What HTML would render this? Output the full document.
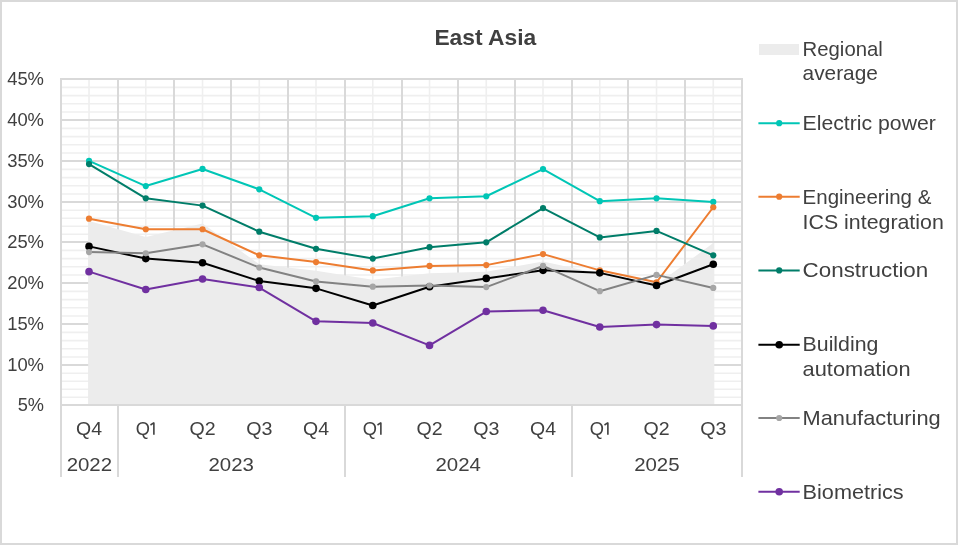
<!DOCTYPE html><html><head><meta charset="utf-8"><title>East Asia</title><style>
html,body{margin:0;padding:0;background:#fff;}body{width:958px;height:545px;overflow:hidden;}
svg{display:block;font-family:"Liberation Sans",sans-serif;will-change:transform;}
</style></head><body>
<svg width="958" height="545" viewBox="0 0 958 545">
<rect x="0" y="0" width="958" height="545" fill="#ffffff"/>
<path d="M61.00 397.20H742.00M61.00 389.20H742.00M61.00 381.20H742.00M61.00 373.20H742.00M61.00 357.00H742.00M61.00 348.80H742.00M61.00 340.60H742.00M61.00 332.40H742.00M61.00 316.00H742.00M61.00 307.80H742.00M61.00 299.60H742.00M61.00 291.40H742.00M61.00 275.00H742.00M61.00 266.80H742.00M61.00 258.60H742.00M61.00 250.40H742.00M61.00 234.20H742.00M61.00 226.20H742.00M61.00 218.20H742.00M61.00 210.20H742.00M61.00 194.00H742.00M61.00 185.80H742.00M61.00 177.60H742.00M61.00 169.40H742.00M61.00 153.00H742.00M61.00 144.80H742.00M61.00 136.60H742.00M61.00 128.40H742.00M61.00 112.00H742.00M61.00 103.80H742.00M61.00 95.60H742.00M61.00 87.40H742.00" stroke="#efefef" stroke-width="1.6" fill="none"/>
<path d="M89.03 79.00V405.00M145.78 79.00V405.00M202.53 79.00V405.00M259.27 79.00V405.00M316.02 79.00V405.00M372.77 79.00V405.00M429.52 79.00V405.00M486.27 79.00V405.00M543.02 79.00V405.00M599.77 79.00V405.00M656.52 79.00V405.00M713.27 79.00V405.00" stroke="#efefef" stroke-width="1.6" fill="none"/>
<path d="M61.00 365.00H742.00M61.00 324.00H742.00M61.00 283.00H742.00M61.00 242.00H742.00M61.00 202.00H742.00M61.00 161.00H742.00M61.00 120.00H742.00" stroke="#d9d9d9" stroke-width="2" fill="none"/>
<path d="M118.00 79.00V405.00M174.00 79.00V405.00M231.00 79.00V405.00M288.00 79.00V405.00M345.00 79.00V405.00M402.00 79.00V405.00M458.00 79.00V405.00M515.00 79.00V405.00M572.00 79.00V405.00M628.00 79.00V405.00M685.00 79.00V405.00" stroke="#d9d9d9" stroke-width="2" fill="none"/>
<path d="M88.2 405.00L88.2 221.11L89.03 221.11L145.78 237.00L202.53 223.56L259.27 264.31L316.02 270.82L372.77 279.79L429.52 273.27L486.27 271.64L543.02 261.45L599.77 273.84L656.52 284.68L713.27 243.12L714.27 243.12L714.27 405.00Z" fill="#ececec"/>
<path d="M61.00 79.00H742.00M61.00 405.00H742.00M61.00 78.00V477M742.00 78.00V477M118.00 405.00V477M345.00 405.00V477M572.00 405.00V477" stroke="#d9d9d9" stroke-width="2" fill="none"/>
<path d="M89.03 160.80L145.78 186.07L202.53 168.95L259.27 189.32L316.02 217.85L372.77 216.22L429.52 198.29L486.27 196.25L543.02 169.11L599.77 201.22L656.52 198.29L713.27 201.96" stroke="#00c6b6" stroke-width="2.0" fill="none" stroke-linejoin="round"/>
<circle cx="89.03" cy="160.80" r="3.1" fill="#00c6b6"/>
<circle cx="145.78" cy="186.07" r="3.1" fill="#00c6b6"/>
<circle cx="202.53" cy="168.95" r="3.1" fill="#00c6b6"/>
<circle cx="259.27" cy="189.32" r="3.1" fill="#00c6b6"/>
<circle cx="316.02" cy="217.85" r="3.1" fill="#00c6b6"/>
<circle cx="372.77" cy="216.22" r="3.1" fill="#00c6b6"/>
<circle cx="429.52" cy="198.29" r="3.1" fill="#00c6b6"/>
<circle cx="486.27" cy="196.25" r="3.1" fill="#00c6b6"/>
<circle cx="543.02" cy="169.11" r="3.1" fill="#00c6b6"/>
<circle cx="599.77" cy="201.22" r="3.1" fill="#00c6b6"/>
<circle cx="656.52" cy="198.29" r="3.1" fill="#00c6b6"/>
<circle cx="713.27" cy="201.96" r="3.1" fill="#00c6b6"/>
<path d="M89.03 218.67L145.78 229.26L202.53 229.26L259.27 255.34L316.02 262.10L372.77 270.42L429.52 265.94L486.27 265.12L543.02 254.12L599.77 270.34L656.52 282.24L713.27 207.25" stroke="#ed7d31" stroke-width="2.0" fill="none" stroke-linejoin="round"/>
<circle cx="89.03" cy="218.67" r="3.1" fill="#ed7d31"/>
<circle cx="145.78" cy="229.26" r="3.1" fill="#ed7d31"/>
<circle cx="202.53" cy="229.26" r="3.1" fill="#ed7d31"/>
<circle cx="259.27" cy="255.34" r="3.1" fill="#ed7d31"/>
<circle cx="316.02" cy="262.10" r="3.1" fill="#ed7d31"/>
<circle cx="372.77" cy="270.42" r="3.1" fill="#ed7d31"/>
<circle cx="429.52" cy="265.94" r="3.1" fill="#ed7d31"/>
<circle cx="486.27" cy="265.12" r="3.1" fill="#ed7d31"/>
<circle cx="543.02" cy="254.12" r="3.1" fill="#ed7d31"/>
<circle cx="599.77" cy="270.34" r="3.1" fill="#ed7d31"/>
<circle cx="656.52" cy="282.24" r="3.1" fill="#ed7d31"/>
<circle cx="713.27" cy="207.25" r="3.1" fill="#ed7d31"/>
<path d="M89.03 164.06L145.78 198.29L202.53 205.62L259.27 231.70L316.02 248.82L372.77 258.60L429.52 247.19L486.27 242.30L543.02 208.07L599.77 237.41L656.52 230.89L713.27 255.34" stroke="#007d69" stroke-width="2.0" fill="none" stroke-linejoin="round"/>
<circle cx="89.03" cy="164.06" r="3.1" fill="#007d69"/>
<circle cx="145.78" cy="198.29" r="3.1" fill="#007d69"/>
<circle cx="202.53" cy="205.62" r="3.1" fill="#007d69"/>
<circle cx="259.27" cy="231.70" r="3.1" fill="#007d69"/>
<circle cx="316.02" cy="248.82" r="3.1" fill="#007d69"/>
<circle cx="372.77" cy="258.60" r="3.1" fill="#007d69"/>
<circle cx="429.52" cy="247.19" r="3.1" fill="#007d69"/>
<circle cx="486.27" cy="242.30" r="3.1" fill="#007d69"/>
<circle cx="543.02" cy="208.07" r="3.1" fill="#007d69"/>
<circle cx="599.77" cy="237.41" r="3.1" fill="#007d69"/>
<circle cx="656.52" cy="230.89" r="3.1" fill="#007d69"/>
<circle cx="713.27" cy="255.34" r="3.1" fill="#007d69"/>
<path d="M89.03 246.38L145.78 258.60L202.53 262.68L259.27 281.01L316.02 288.35L372.77 305.46L429.52 286.72L486.27 278.40L543.02 270.34L599.77 272.86L656.52 285.50L713.27 264.31" stroke="#000000" stroke-width="2.0" fill="none" stroke-linejoin="round"/>
<circle cx="89.03" cy="246.38" r="3.8" fill="#000000"/>
<circle cx="145.78" cy="258.60" r="3.8" fill="#000000"/>
<circle cx="202.53" cy="262.68" r="3.8" fill="#000000"/>
<circle cx="259.27" cy="281.01" r="3.8" fill="#000000"/>
<circle cx="316.02" cy="288.35" r="3.8" fill="#000000"/>
<circle cx="372.77" cy="305.46" r="3.8" fill="#000000"/>
<circle cx="429.52" cy="286.72" r="3.8" fill="#000000"/>
<circle cx="486.27" cy="278.40" r="3.8" fill="#000000"/>
<circle cx="543.02" cy="270.34" r="3.8" fill="#000000"/>
<circle cx="599.77" cy="272.86" r="3.8" fill="#000000"/>
<circle cx="656.52" cy="285.50" r="3.8" fill="#000000"/>
<circle cx="713.27" cy="264.31" r="3.8" fill="#000000"/>
<path d="M89.03 252.08L145.78 253.30L202.53 244.34L259.27 267.56L316.02 281.42L372.77 286.72L429.52 285.50L486.27 287.12L543.02 265.94L599.77 291.20L656.52 274.90L713.27 287.94" stroke="#828282" stroke-width="2.0" fill="none" stroke-linejoin="round"/>
<circle cx="89.03" cy="252.08" r="3.1" fill="#a6a6a6"/>
<circle cx="145.78" cy="253.30" r="3.1" fill="#a6a6a6"/>
<circle cx="202.53" cy="244.34" r="3.1" fill="#a6a6a6"/>
<circle cx="259.27" cy="267.56" r="3.1" fill="#a6a6a6"/>
<circle cx="316.02" cy="281.42" r="3.1" fill="#a6a6a6"/>
<circle cx="372.77" cy="286.72" r="3.1" fill="#a6a6a6"/>
<circle cx="429.52" cy="285.50" r="3.1" fill="#a6a6a6"/>
<circle cx="486.27" cy="287.12" r="3.1" fill="#a6a6a6"/>
<circle cx="543.02" cy="265.94" r="3.1" fill="#a6a6a6"/>
<circle cx="599.77" cy="291.20" r="3.1" fill="#a6a6a6"/>
<circle cx="656.52" cy="274.90" r="3.1" fill="#a6a6a6"/>
<circle cx="713.27" cy="287.94" r="3.1" fill="#a6a6a6"/>
<path d="M89.03 271.64L145.78 289.57L202.53 278.98L259.27 287.53L316.02 321.36L372.77 322.99L429.52 345.40L486.27 311.57L543.02 310.19L599.77 327.06L656.52 324.62L713.27 325.92" stroke="#7030a0" stroke-width="2.0" fill="none" stroke-linejoin="round"/>
<circle cx="89.03" cy="271.64" r="3.8" fill="#7030a0"/>
<circle cx="145.78" cy="289.57" r="3.8" fill="#7030a0"/>
<circle cx="202.53" cy="278.98" r="3.8" fill="#7030a0"/>
<circle cx="259.27" cy="287.53" r="3.8" fill="#7030a0"/>
<circle cx="316.02" cy="321.36" r="3.8" fill="#7030a0"/>
<circle cx="372.77" cy="322.99" r="3.8" fill="#7030a0"/>
<circle cx="429.52" cy="345.40" r="3.8" fill="#7030a0"/>
<circle cx="486.27" cy="311.57" r="3.8" fill="#7030a0"/>
<circle cx="543.02" cy="310.19" r="3.8" fill="#7030a0"/>
<circle cx="599.77" cy="327.06" r="3.8" fill="#7030a0"/>
<circle cx="656.52" cy="324.62" r="3.8" fill="#7030a0"/>
<circle cx="713.27" cy="325.92" r="3.8" fill="#7030a0"/>
<text x="44.0" y="411.40" font-size="18.3" fill="#404040" text-anchor="end" textLength="26.34" lengthAdjust="spacingAndGlyphs">5%</text>
<text x="44.0" y="370.65" font-size="18.3" fill="#404040" text-anchor="end" textLength="36.85" lengthAdjust="spacingAndGlyphs">10%</text>
<text x="44.0" y="329.90" font-size="18.3" fill="#404040" text-anchor="end" textLength="36.85" lengthAdjust="spacingAndGlyphs">15%</text>
<text x="44.0" y="289.15" font-size="18.3" fill="#404040" text-anchor="end" textLength="36.85" lengthAdjust="spacingAndGlyphs">20%</text>
<text x="44.0" y="248.40" font-size="18.3" fill="#404040" text-anchor="end" textLength="36.85" lengthAdjust="spacingAndGlyphs">25%</text>
<text x="44.0" y="207.65" font-size="18.3" fill="#404040" text-anchor="end" textLength="36.85" lengthAdjust="spacingAndGlyphs">30%</text>
<text x="44.0" y="166.90" font-size="18.3" fill="#404040" text-anchor="end" textLength="36.85" lengthAdjust="spacingAndGlyphs">35%</text>
<text x="44.0" y="126.15" font-size="18.3" fill="#404040" text-anchor="end" textLength="36.85" lengthAdjust="spacingAndGlyphs">40%</text>
<text x="44.0" y="85.40" font-size="18.3" fill="#404040" text-anchor="end" textLength="36.85" lengthAdjust="spacingAndGlyphs">45%</text>
<text x="89.03" y="434.8" font-size="18.3" fill="#404040" text-anchor="middle" textLength="25.99" lengthAdjust="spacingAndGlyphs">Q4</text>
<text x="135.78" y="434.8" font-size="18.3" fill="#404040">Q</text>
<path d="M153.88 434.7V422.4M154.08 422.7L150.47 425.0" stroke="#404040" stroke-width="1.6" fill="none"/>
<text x="202.53" y="434.8" font-size="18.3" fill="#404040" text-anchor="middle" textLength="26.10" lengthAdjust="spacingAndGlyphs">Q2</text>
<text x="259.27" y="434.8" font-size="18.3" fill="#404040" text-anchor="middle" textLength="26.22" lengthAdjust="spacingAndGlyphs">Q3</text>
<text x="316.02" y="434.8" font-size="18.3" fill="#404040" text-anchor="middle" textLength="25.99" lengthAdjust="spacingAndGlyphs">Q4</text>
<text x="362.77" y="434.8" font-size="18.3" fill="#404040">Q</text>
<path d="M380.88 434.7V422.4M381.07 422.7L377.47 425.0" stroke="#404040" stroke-width="1.6" fill="none"/>
<text x="429.52" y="434.8" font-size="18.3" fill="#404040" text-anchor="middle" textLength="26.10" lengthAdjust="spacingAndGlyphs">Q2</text>
<text x="486.27" y="434.8" font-size="18.3" fill="#404040" text-anchor="middle" textLength="26.22" lengthAdjust="spacingAndGlyphs">Q3</text>
<text x="543.02" y="434.8" font-size="18.3" fill="#404040" text-anchor="middle" textLength="25.99" lengthAdjust="spacingAndGlyphs">Q4</text>
<text x="589.77" y="434.8" font-size="18.3" fill="#404040">Q</text>
<path d="M607.88 434.7V422.4M608.07 422.7L604.48 425.0" stroke="#404040" stroke-width="1.6" fill="none"/>
<text x="656.52" y="434.8" font-size="18.3" fill="#404040" text-anchor="middle" textLength="26.10" lengthAdjust="spacingAndGlyphs">Q2</text>
<text x="713.27" y="434.8" font-size="18.3" fill="#404040" text-anchor="middle" textLength="26.22" lengthAdjust="spacingAndGlyphs">Q3</text>
<text x="89.38" y="470.8" font-size="18.3" fill="#404040" text-anchor="middle" textLength="45.44" lengthAdjust="spacingAndGlyphs">2022</text>
<text x="231.25" y="470.8" font-size="18.3" fill="#404040" text-anchor="middle" textLength="45.44" lengthAdjust="spacingAndGlyphs">2023</text>
<text x="458.25" y="470.8" font-size="18.3" fill="#404040" text-anchor="middle" textLength="45.44" lengthAdjust="spacingAndGlyphs">2024</text>
<text x="656.88" y="470.8" font-size="18.3" fill="#404040" text-anchor="middle" textLength="45.44" lengthAdjust="spacingAndGlyphs">2025</text>
<text x="485.3" y="44.8" font-size="22.8" font-weight="bold" fill="#404040" text-anchor="middle">East Asia</text>
<rect x="759" y="44" width="40" height="11" fill="#ececec"/>
<text x="802.6" y="55.6" font-size="20.8" fill="#404040" textLength="80.22" lengthAdjust="spacingAndGlyphs">Regional</text>
<text x="802.6" y="80.4" font-size="20.8" fill="#404040" textLength="75.28" lengthAdjust="spacingAndGlyphs">average</text>
<path d="M758.4 123.2H799.7" stroke="#00c6b6" stroke-width="2.0" fill="none"/>
<circle cx="779.2" cy="123.2" r="3.1" fill="#00c6b6"/>
<text x="802.6" y="129.7" font-size="20.8" fill="#404040" textLength="133.27" lengthAdjust="spacingAndGlyphs">Electric power</text>
<path d="M758.4 196.7H799.7" stroke="#ed7d31" stroke-width="2.0" fill="none"/>
<circle cx="779.2" cy="196.7" r="3.1" fill="#ed7d31"/>
<text x="802.6" y="203.8" font-size="20.8" fill="#404040" textLength="128.75" lengthAdjust="spacingAndGlyphs">Engineering &amp;</text>
<text x="802.6" y="228.6" font-size="20.8" fill="#404040" textLength="141.19" lengthAdjust="spacingAndGlyphs">ICS integration</text>
<path d="M758.4 270.4H799.7" stroke="#007d69" stroke-width="2.0" fill="none"/>
<circle cx="779.2" cy="270.4" r="3.1" fill="#007d69"/>
<text x="802.6" y="276.6" font-size="20.8" fill="#404040" textLength="125.67" lengthAdjust="spacingAndGlyphs">Construction</text>
<path d="M758.4 344.8H799.7" stroke="#000000" stroke-width="2.0" fill="none"/>
<circle cx="779.2" cy="344.8" r="3.8" fill="#000000"/>
<text x="802.6" y="350.9" font-size="20.8" fill="#404040" textLength="75.74" lengthAdjust="spacingAndGlyphs">Building</text>
<text x="802.6" y="375.7" font-size="20.8" fill="#404040" textLength="107.94" lengthAdjust="spacingAndGlyphs">automation</text>
<path d="M758.4 418.0H799.7" stroke="#828282" stroke-width="2.0" fill="none"/>
<circle cx="779.2" cy="418.0" r="3.1" fill="#a6a6a6"/>
<text x="802.6" y="424.8" font-size="20.8" fill="#404040" textLength="138.09" lengthAdjust="spacingAndGlyphs">Manufacturing</text>
<path d="M758.4 491.7H799.7" stroke="#7030a0" stroke-width="2.0" fill="none"/>
<circle cx="779.2" cy="491.7" r="3.8" fill="#7030a0"/>
<text x="802.6" y="498.8" font-size="20.8" fill="#404040" textLength="101.04" lengthAdjust="spacingAndGlyphs">Biometrics</text>
<rect x="1" y="1" width="956" height="543" fill="none" stroke="#d9d9d9" stroke-width="2"/>
</svg></body></html>
